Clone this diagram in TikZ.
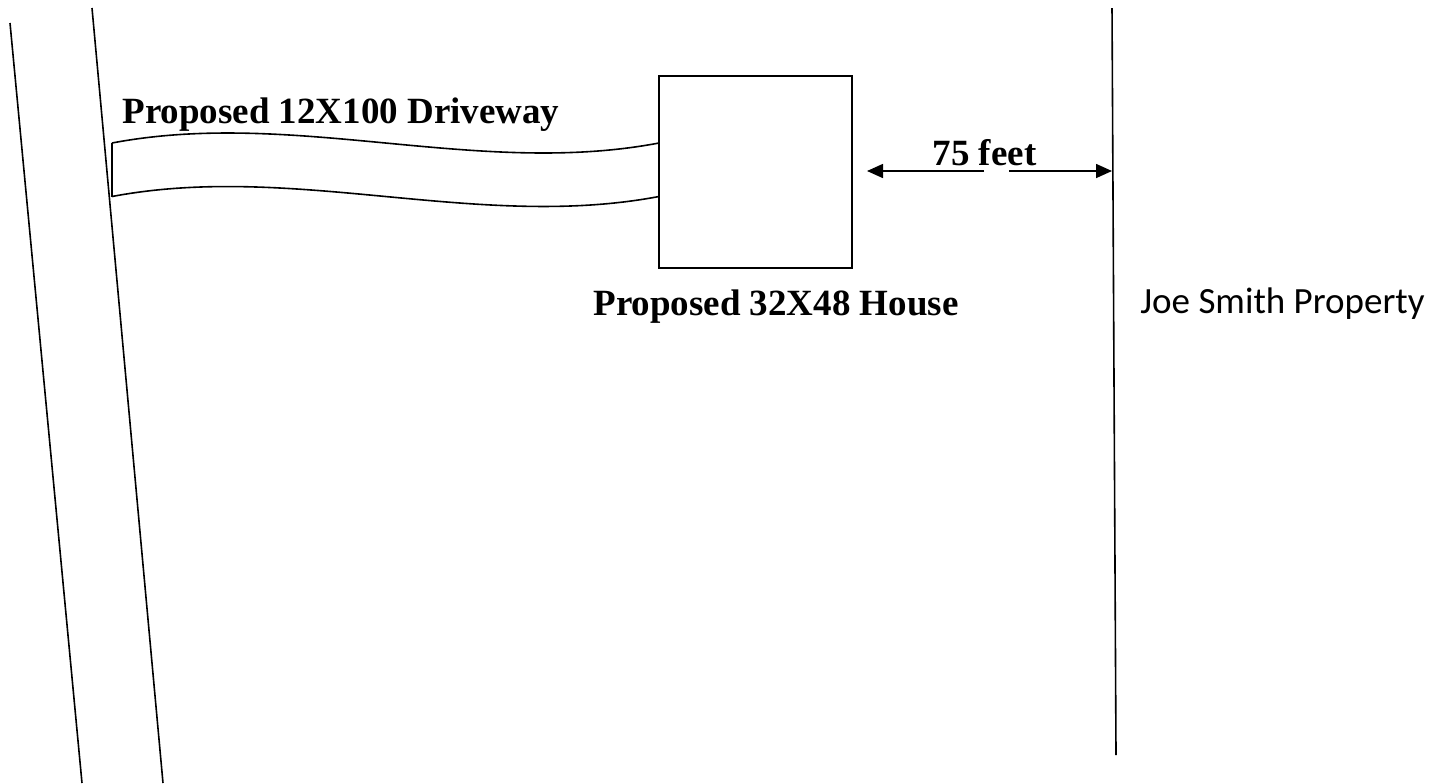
\documentclass[tikz,border=0pt]{standalone}
\usepackage{fontspec}
\setmainfont{Liberation Serif}
\newfontfamily\calib{Carlito}
\usetikzlibrary{arrows.meta}
\begin{document}
\begin{tikzpicture}[x=0.5pt,y=-0.5pt,
  line/.style={line width=0.8pt,black},
  bold label/.style={inner sep=0pt,font=\fontsize{18.5}{22}\selectfont\bfseries},
  plain label/.style={inner sep=0pt,font=\calib\fontsize{18.5}{22}\selectfont},
  house/.style={draw,line width=0.8pt,minimum width=96.5pt,minimum height=96pt,inner sep=0pt},
  dim/.style={line width=0.8pt,-{Triangle[length=8pt,width=7pt]}}]
\useasboundingbox (0,0) rectangle (1443,783);
% road edges
\draw[line] (10,23) -- (82,783);
\draw[line] (92,8) -- (163,783);
% property line
\coordinate (plTop) at (1112,8);
\coordinate (plBot) at (1116,755);
\draw[line] (plTop) -- (plBot);
% house
\node[house] (house) at (755.5,172) {};
% driveway
\draw[line] (112,143) .. controls (294.3,108.4) and (476.7,177.6) .. (659,143);
\draw[line] (112,196.5) .. controls (294.3,162) and (476.7,231) .. (659,196.5);
\draw[line] (112,143) -- (112,196.5);
% dimension arrow
\coordinate (aL) at (867,171);
\coordinate (gL) at (984,171);
\coordinate (gR) at (1009,171);
\coordinate (aR) at (1112,171);
\draw[dim] (gL) -- (aL);
\draw[dim] (gR) -- (aR);
\node[bold label,anchor=base] (dimtext) at (984.5,165) {75 feet};
% labels
\node[bold label,anchor=base west] (drivelabel) at (122,123) {Proposed 12X100 Driveway};
\node[bold label,anchor=base] (houselabel) at (776,315) {Proposed 32X48 House};
\node[plain label,anchor=base west] (joelabel) at (1140,313) {Joe Smith Property};
\end{tikzpicture}
\end{document}
